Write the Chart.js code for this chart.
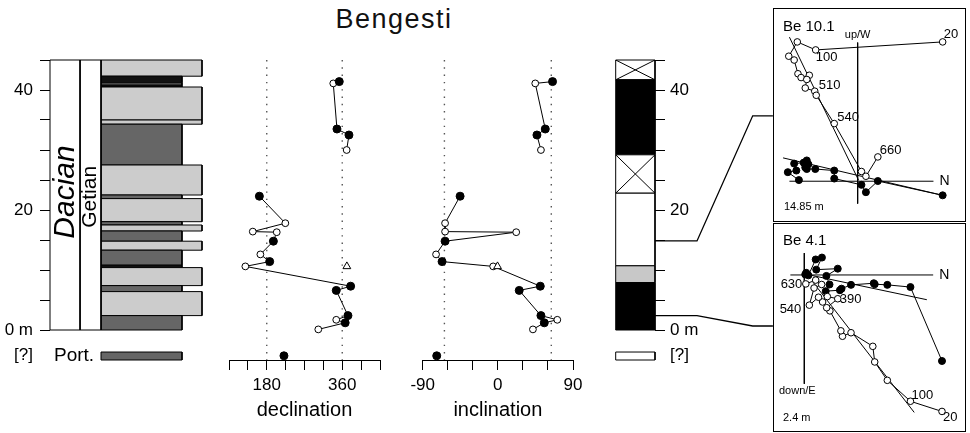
<!DOCTYPE html>
<html>
<head>
<meta charset="utf-8">
<title>Bengesti</title>
<script src="https://cdn.jsdelivr.net/npm/chart.js@4.4.1/dist/chart.umd.min.js"></script>
<style>
  html, body { margin:0; padding:0; background:#fff; }
  body { width:970px; height:433px; position:relative; overflow:hidden; }
  .pane { position:absolute; }
  .zbox { position:absolute; border:1px solid #000; box-sizing:border-box; background:#fff; }
  .zbox .pane { left:0; top:0; right:0; bottom:0; }
  #title { position:absolute; left:294px; top:4px; width:200px; text-align:center;
           font:27px 'Liberation Sans', Arial, sans-serif; letter-spacing:1.5px; color:#111; }
</style>
</head>
<body>
<div id="title">Bengesti</div>
<div class="pane" style="left:0;top:0;width:215px;height:433px"><canvas id="cLitho"></canvas></div>
<div class="pane" style="left:215px;top:0;width:185px;height:433px"><canvas id="cDec"></canvas></div>
<div class="pane" style="left:400px;top:0;width:200px;height:433px"><canvas id="cInc"></canvas></div>
<div class="pane" style="left:600px;top:0;width:173px;height:433px"><canvas id="cPol"></canvas></div>
<div class="zbox" style="left:773px;top:8px;width:193px;height:214px"><div class="pane"><canvas id="cZ1"></canvas></div></div>
<div class="zbox" style="left:773px;top:223px;width:193px;height:209px"><div class="pane"><canvas id="cZ2"></canvas></div></div>
<script>
// ======================= DATA =======================
const depthTicks = [0, 5, 10, 15, 20, 25, 30, 35, 40, 45];
const depthTickLabels = { 0: '0 m', 20: '20', 40: '40' };
const unplacedLabel = '[?]';

const stageName = 'Dacian';
const substageName = 'Getian';
const unplacedUnitName = 'Port.';

// lithological log (m)
const lithoBottom = [0, 2.4, 6.4, 7.4, 10.4, 10.8, 13.3, 14.8, 16.5, 17.5, 18.05, 21.9, 22.5, 27.5, 34.3, 35.0, 40.5, 40.8, 41.2, 42.3];
const lithoTop    = [2.4, 6.4, 7.4, 10.4, 10.8, 13.3, 14.8, 16.5, 17.5, 18.05, 21.9, 22.5, 27.5, 34.3, 35.0, 40.5, 40.8, 41.2, 42.3, 45];
const lithoType   = ['clay','sand','clay','sand','lignite','clay','sand','clay','sand','clay','sand','clay','sand','clay','sand','sand','lignite','clay','lignite','sand'];
const unplacedLitho = 'clay';

// palaeomagnetic directions
const sampleDepth = [41.4, 41.1, 33.5, 32.5, 30.0, 22.3, 17.8, 16.4, 16.3, 14.8, 12.6, 11.4, 10.6, 7.3, 6.6, 2.4, 1.7, 1.2, 0.1];
const declination = [352.9, 338.6, 347.4, 376.0, 370.5, 162.4, 224.3, 146.7, 203.8, 195.8, 164.8, 187.0, 129.0, 380.0, 345.7, 373.6, 345.7, 367.0, 302.9];
const inclination = [65.5, 44.8, 56.8, 46.8, 51.6, -45.2, -63.2, -63.2, 22.0, -63.2, -74.0, -66.8, -5.6, 50.8, 25.6, 51.6, 71.2, 55.6, 42.0];
const sampleClass = ['F','O','F','F','O','F','O','O','O','F','O','F','O','F','F','F','O','F','O'];
const sampleRun   = [1, 1, 1, 1, 1, 2, 2, 2, 2, 2, 2, 2, 2, 2, 2, 2, 2, 2, 2];

const gcDepth = [10.6];
const gcDec = [371];
const gcInc = [-0.4];
const unplacedDec = [221];
const unplacedInc = [-73.2];

const gadDec = [180, 360];
const gadInc = [-64, 64];
const decTickLabels = [180, 360];
const incTickLabels = [-90, 0, 90];

// polarity column
const polBottom = [0, 7.9, 10.7, 22.8, 29.2, 41.7];
const polTop    = [7.9, 10.7, 22.8, 29.2, 41.7, 45];
const polType   = ['normal', 'uncertain', 'reversed', 'nodata', 'normal', 'nodata'];

// Zijderveld diagrams
const zSample = ['Be 10.1', 'Be 4.1'];
const zDepth = [14.85, 2.4];
const zDepthLabel = ['14.85 m', '2.4 m'];

const z1OpenX = [89.7, -44.3, -63.7, -72.7, -67, -63, -59.7, -51, -53.7, -55.3, -45.3, -43.7, -24.7, 4, 8.7, 21.3];
const z1OpenY = [146.2, 137.8, 146.2, 131.2, 127.2, 112.8, 108.8, 111.2, 106.8, 97.8, 94.5, 90.2, 60.5, 10.2, 5.2, 25.5];
const z1FillX = [89.7, 21.3, 8.7, 4, -24.7, -24.7, -44.7, -53.7, -55.3, -52, -53.7, -57, -67, -64.7, -73.7, -62];
const z1FillY = [-14.8, 0.2, -11.5, -3.8, 2.8, 11.2, 12.8, 12.8, 14.5, 17.8, 21.8, 19.5, 18.5, 11.2, 9.5, 1.2];
const z1StepIndex = [0, 1, 10, 12, 15];
const z1StepLabel = ['20', '100', '510', '540', '660'];
const z1FitOpenX = [-72, 1];
const z1FitOpenY = [151.2, 1];
const z1FitFillX = [-78.7, 89.7];
const z1FitFillY = [24.5, -14.8];

const z2OpenX = [145.3, 112, 87.6, 74.3, 72.3, 49.3, 40.3, 38.6, 27, 23.6, 35.3, 24.3, 19.3, 15, 5.3, 10.3, 18.3, 12, 1.6];
const z2OpenY = [-143.4, -132.7, -110.7, -91.4, -75, -60.7, -64.4, -58.7, -37.7, -34.4, -25, -22.7, -28.4, -23.4, -31.7, -13.7, -10, -5.4, -9.4];
const z2FillX = [145.3, 112, 87.6, 74.3, 73.3, 49.3, 39.3, 37.6, 22.6, 26.6, 23.3, 35.3, 12.6, 18.6, 12, 4.3, 2, 1];
const z2FillY = [-90.4, -12.7, -10.4, -9.7, -8.7, -10.4, -14.4, -16, -17, -10, -1, 6.6, 5.6, 18.3, 16.3, -0.4, 2.3, 0.6];
const z2StepIndex = [0, 1, 10, 14, 18];
const z2StepLabel = ['20', '100', '390', '540', '630'];
const z2FitOpenX = [9.3, 116];
const z2FitOpenY = [-7.7, -144.4];
const z2FitFillX = [2.6, 129.3];
const z2FitFillY = [0.6, -26];

// ======================= LAYOUT / STYLE =======================
const DEPTH_MIN = -5, DEPTH_MAX = 45;
const UNPLACED_DEPTH = -4.3;
const UNPLACED_BAR = [-5, -3.67];
const REG = "'Liberation Sans', Arial, sans-serif";
const TICK_FONT = { family: REG, size: 17 };
const COL = { stage: [0, 30], sub: [30, 51], litho0: 51, max: 152 };
const LITHO_WIDTH = { clay: 132, sand: 152, lignite: 132 };
const LITHO_COLOR = { clay: '#666666', sand: '#cccccc', lignite: '#111111' };
const POL_COLOR = { normal: '#000000', reversed: '#ffffff', uncertain: '#c8c8c8', nodata: '#ffffff' };
const CONNECT_X = [4.0, 3.486, 2.069, 1.0];
const CONNECT_BOX_DEPTH = [35.7, 0.67];
const Z_RANGE = [
  { xmin: -83, xmax: 108, ymin: -36.5, ymax: 175.5, hAxis: [-72, 80], vAxis: [145.5, -23.5] },
  { xmin: -26.7, xmax: 164.3, ymin: -158.7, ymax: 48.3, hAxis: [-14.7, 136], vAxis: [23, -114.4] }
];

Chart.defaults.font.family = REG;
Chart.defaults.font.size = 17;
Chart.defaults.color = '#000';
Chart.defaults.animation = false;
Chart.defaults.responsive = true;
Chart.defaults.maintainAspectRatio = false;
Chart.defaults.events = [];
Chart.defaults.plugins.legend.display = false;
Chart.defaults.plugins.tooltip.enabled = false;
Chart.defaults.elements.point.radius = 0;
Chart.defaults.elements.line.tension = 0;
Chart.defaults.elements.line.borderWidth = 1;
Chart.defaults.elements.line.borderColor = '#000';

function rectDS(x0, x1, d0, d1, bg, order) {
  return {
    data: [{x: x0, y: d0}, {x: x0, y: d1}, {x: x1, y: d1}, {x: x1, y: d0}, {x: x0, y: d0}],
    borderColor: '#000', borderWidth: 1, backgroundColor: bg, fill: 'shape',
    pointRadius: 0, clip: false, order: order || 0
  };
}
function lineDS(xs, ys, extra) {
  return Object.assign({ data: xs.map((x, i) => ({x, y: ys[i]})), borderColor: '#000', borderWidth: 1, pointRadius: 0, fill: false }, extra || {});
}
function makeTextPlugin(items) {
  return {
    id: 'texts',
    afterDatasetsDraw(chart) {
      const ctx = chart.ctx, xs = chart.scales.x, ys = chart.scales.y, a = chart.chartArea;
      items.forEach(it => {
        let x, y;
        if (it.corner) {
          x = (it.corner[0] === 'l' ? a.left : a.right) + (it.dx || 0);
          y = (it.corner[1] === 't' ? a.top : a.bottom) + (it.dy || 0);
        } else {
          x = xs.getPixelForValue(it.x) + (it.dx || 0);
          y = ys.getPixelForValue(it.y) + (it.dy || 0);
        }
        ctx.save();
        ctx.font = it.font;
        ctx.fillStyle = '#000';
        ctx.textAlign = it.align || 'left';
        ctx.textBaseline = 'middle';
        ctx.translate(x, y);
        if (it.rot) ctx.rotate(it.rot);
        ctx.fillText(it.text, 0, 0);
        ctx.restore();
      });
    }
  };
}
function depthAxis(position, width, padding) {
  return {
    type: 'linear', position, min: DEPTH_MIN, max: DEPTH_MAX,
    afterFit: s => { s.width = width; },
    afterBuildTicks: s => { s.ticks = [UNPLACED_DEPTH].concat(depthTicks).map(v => ({ value: v })); },
    border: { display: false },
    grid: { drawOnChartArea: false, drawTicks: true, tickLength: 10, lineWidth: 1,
            color: c => (c.tick && c.tick.value < 0) ? 'rgba(0,0,0,0)' : '#000' },
    ticks: { autoSkip: false, padding: padding, font: TICK_FONT, color: '#000',
             callback: v => v < 0 ? unplacedLabel : (depthTickLabels[v] || '') }
  };
}

// ======================= LITHOLOGY =======================
(function () {
  const ds = [];
  ds.push(rectDS(COL.stage[0], COL.stage[1], 0, DEPTH_MAX, '#ffffff'));
  ds.push(rectDS(COL.sub[0], COL.sub[1], 0, DEPTH_MAX, '#ffffff'));
  lithoType.forEach((t, i) => ds.push(rectDS(COL.litho0, LITHO_WIDTH[t], lithoBottom[i], lithoTop[i], LITHO_COLOR[t])));
  ds.push(rectDS(COL.litho0, LITHO_WIDTH[unplacedLitho], UNPLACED_BAR[0], UNPLACED_BAR[1], LITHO_COLOR[unplacedLitho]));
  const texts = [
    { text: stageName, x: 16, y: 23, rot: -Math.PI / 2, align: 'center', font: 'italic 30px ' + REG },
    { text: substageName, x: 40.5, y: 22.2, rot: -Math.PI / 2, align: 'center', font: '21px ' + REG },
    { text: unplacedUnitName, x: 4, y: UNPLACED_DEPTH, align: 'left', font: '19px ' + REG }
  ];
  new Chart(document.getElementById('cLitho'), {
    type: 'line',
    data: { datasets: ds },
    options: {
      layout: { padding: { left: 0, right: 13, top: 60, bottom: 73 } },
      scales: {
        x: { type: 'linear', min: 0, max: COL.max, display: false },
        y: depthAxis('left', 50, 7)
      }
    },
    plugins: [makeTextPlugin(texts)]
  });
})();

// ======================= DEC / INC =======================
function directionChart(id, values, gcValues, unplacedValues, refs, range, step, tickLabels, title, pad) {
  const ds = [];
  refs.forEach(v => ds.push(lineDS([v, v], [DEPTH_MAX, DEPTH_MIN], { borderColor: '#555', borderWidth: 1.4, borderDash: [1.4, 5.9], order: 6 })));
  [...new Set(sampleRun)].forEach(r => {
    const idx = sampleDepth.map((d, i) => i).filter(i => sampleRun[i] === r);
    ds.push(lineDS(idx.map(i => values[i]), idx.map(i => sampleDepth[i]), { order: 5 }));
  });
  const openIdx = sampleDepth.map((d, i) => i).filter(i => sampleClass[i] === 'O');
  const fillIdx = sampleDepth.map((d, i) => i).filter(i => sampleClass[i] === 'F');
  ds.push(lineDS(openIdx.map(i => values[i]), openIdx.map(i => sampleDepth[i]),
    { showLine: false, pointRadius: 3.4, pointBackgroundColor: '#fff', pointBorderColor: '#000', pointBorderWidth: 1, order: 2 }));
  ds.push(lineDS(fillIdx.map(i => values[i]), fillIdx.map(i => sampleDepth[i]),
    { showLine: false, pointRadius: 4, pointBackgroundColor: '#000', pointBorderColor: '#000', pointBorderWidth: 1, order: 1 }));
  ds.push(lineDS(gcValues, gcDepth,
    { showLine: false, pointStyle: 'triangle', pointRadius: 4.5, pointBackgroundColor: '#fff', pointBorderColor: '#000', pointBorderWidth: 1, order: 1 }));
  ds.push(lineDS(unplacedValues, [UNPLACED_DEPTH],
    { showLine: false, pointRadius: 4, pointBackgroundColor: '#000', pointBorderColor: '#000', order: 1 }));
  new Chart(document.getElementById(id), {
    type: 'line',
    data: { datasets: ds },
    options: {
      layout: { padding: { left: pad[0], right: pad[1], top: 60, bottom: 9 } },
      scales: {
        x: {
          type: 'linear', position: 'bottom', min: range[0], max: range[1],
          afterFit: s => { s.height = 64; },
          ticks: { stepSize: step, autoSkip: false, maxRotation: 0, padding: 5, font: TICK_FONT,
                   callback: v => tickLabels.includes(v) ? String(v) : '' },
          grid: { drawOnChartArea: false, tickLength: 10, color: '#000', lineWidth: 1 },
          border: { color: '#000', width: 1 },
          title: { display: true, text: title, font: { family: REG, size: 20 }, padding: { top: 0, bottom: 2 } }
        },
        y: { type: 'linear', min: DEPTH_MIN, max: DEPTH_MAX, display: false }
      }
    }
  });
}
directionChart('cDec', declination, gcDec, unplacedDec, gadDec, [90, 450], 45, decTickLabels, 'declination', [14, 20]);
directionChart('cInc', inclination, gcInc, unplacedInc, gadInc, [-90, 90], 30, incTickLabels, 'inclination', [22.7, 27]);

// ======================= POLARITY =======================
(function () {
  const ds = [];
  polType.forEach((t, i) => {
    ds.push(rectDS(0, 1, polBottom[i], polTop[i], POL_COLOR[t], 2));
    if (t === 'nodata') {
      ds.push(lineDS([0, 1], [polTop[i], polBottom[i]], { order: 1 }));
      ds.push(lineDS([0, 1], [polBottom[i], polTop[i]], { order: 1 }));
    }
  });
  ds.push(rectDS(0, 1, UNPLACED_BAR[0], UNPLACED_BAR[1], '#ffffff', 2));
  zDepth.forEach((d, k) => {
    ds.push(lineDS(CONNECT_X, [CONNECT_BOX_DEPTH[k], CONNECT_BOX_DEPTH[k], d, d], { clip: false, borderWidth: 1.3, order: 0 }));
  });
  new Chart(document.getElementById('cPol'), {
    type: 'line',
    data: { datasets: ds },
    options: {
      layout: { padding: { left: 15.7, right: 0, top: 60, bottom: 73 } },
      scales: {
        x: { type: 'linear', min: 0, max: 1, display: false },
        y: depthAxis('right', 118, 5)
      }
    }
  });
})();

// ======================= ZIJDERVELD =======================
function zChart(id, k, openX, openY, fillX, fillY, fitOX, fitOY, fitFX, fitFY, texts) {
  const R = Z_RANGE[k];
  const ds = [
    lineDS(R.hAxis, [0, 0], { order: 6 }),
    lineDS([0, 0], R.vAxis, { order: 6 }),
    lineDS(fitOX, fitOY, { order: 5 }),
    lineDS(fitFX, fitFY, { order: 5 }),
    lineDS(fillX, fillY, { pointRadius: 3.5, pointBackgroundColor: '#000', pointBorderColor: '#000', pointBorderWidth: 1, order: 2 }),
    lineDS(openX, openY, { pointRadius: 3.3, pointBackgroundColor: '#fff', pointBorderColor: '#000', pointBorderWidth: 1, order: 1 })
  ];
  new Chart(document.getElementById(id), {
    type: 'line',
    data: { datasets: ds },
    options: {
      layout: { padding: 0 },
      scales: {
        x: { type: 'linear', min: R.xmin, max: R.xmax, display: false },
        y: { type: 'linear', min: R.ymin, max: R.ymax, display: false }
      }
    },
    plugins: [makeTextPlugin(texts)]
  });
}
const F13 = '13px ' + REG, F14 = '14px ' + REG, F11 = '11px ' + REG;
function stepTexts(xs, ys, idx, lbl, offs) {
  return idx.map((i, j) => ({ text: lbl[j], x: xs[i], y: ys[i], dx: offs[j][0], dy: offs[j][1], align: offs[j][2] || 'left', font: F13 }));
}
zChart('cZ1', 0, z1OpenX, z1OpenY, z1FillX, z1FillY, z1FitOpenX, z1FitOpenY, z1FitFillX, z1FitFillY, [
  { text: zSample[0], corner: 'lt', dx: 4, dy: 13, font: '15px ' + REG },
  { text: zDepthLabel[0], corner: 'lb', dx: 5, dy: -9, font: F11 },
  { text: 'up/W', x: 0, y: Z_RANGE[0].vAxis[0], dy: -8, align: 'center', font: F11 },
  { text: 'N', x: Z_RANGE[0].hAxis[1], y: 0, dx: 6, font: F14 }
].concat(stepTexts(z1OpenX, z1OpenY, z1StepIndex, z1StepLabel, [[1, -7], [0, 8], [4, -6], [3, -6.5], [2, -6.5]])));
zChart('cZ2', 1, z2OpenX, z2OpenY, z2FillX, z2FillY, z2FitOpenX, z2FitOpenY, z2FitFillX, z2FitFillY, [
  { text: zSample[1], corner: 'lt', dx: 4, dy: 12, font: '15px ' + REG },
  { text: zDepthLabel[1], corner: 'lb', dx: 4, dy: -8, font: F11 },
  { text: 'down/E', x: 0, y: Z_RANGE[1].vAxis[1], dx: -7, dy: 7.5, align: 'center', font: F11 },
  { text: 'N', x: Z_RANGE[1].hAxis[1], y: 0, dx: 6, font: F14 }
].concat(stepTexts(z2OpenX, z2OpenY, z2StepIndex, z2StepLabel, [[1, 6], [1, -5.5], [2, 1], [-8, 4, 'right'], [-3.5, 1, 'right']])));
</script>
</body>
</html>
